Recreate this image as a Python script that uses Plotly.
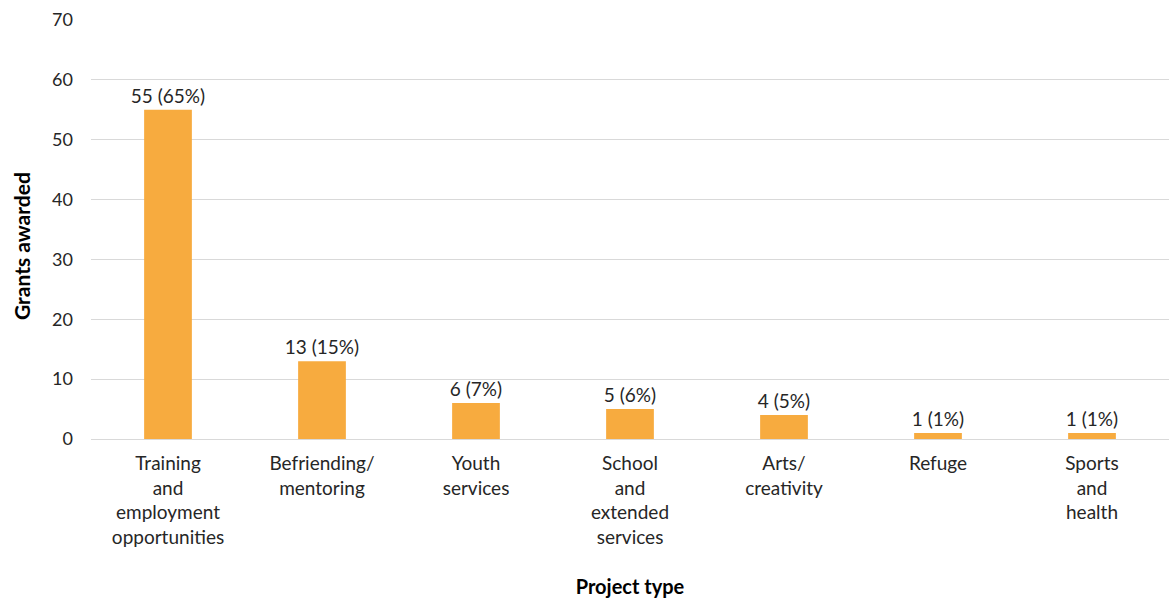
import plotly.graph_objects as go

categories = ["Training<br>and<br>employment<br>opportunities", "Befriending/<br>mentoring",
              "Youth<br>services", "School<br>and<br>extended<br>services", "Arts/<br>creativity",
              "Refuge", "Sports<br>and<br>health"]
grants = [55, 13, 6, 5, 4, 1, 1]
percents = [65, 15, 7, 6, 5, 1, 1]
labels = [f"{g} ({p}%)" for g, p in zip(grants, percents)]

FONT = "Lato, 'DejaVu Sans', sans-serif"

fig = go.Figure(go.Bar(
    x=categories, y=grants, text=labels, textposition="outside",
    textfont=dict(size=19, color="#262626", family=FONT),
    constraintext="none",
    marker=dict(color="#F7AB3F", line=dict(width=0)),
    width=0.31, cliponaxis=False,
))

fig.update_layout(
    width=1169, height=599,
    margin=dict(l=91, r=0, t=20, b=160),
    plot_bgcolor="white", paper_bgcolor="white",
    showlegend=False,
    font=dict(family=FONT, size=19, color="#262626"),
    annotations=[dict(
        text="<b>Grants awarded</b>", textangle=-90, showarrow=False,
        xref="paper", yref="paper", x=-70 / 1078, y=0.4606,
        xanchor="center", yanchor="middle",
        font=dict(size=21, color="#000000", family=FONT),
    )],
)
fig.update_yaxes(
    range=[0, 70], dtick=10, showgrid=True, gridcolor="#d9d9d9", gridwidth=1,
    zeroline=True, zerolinecolor="#d9d9d9", zerolinewidth=1,
    tickfont=dict(size=18, color="#262626"), ticklabelstandoff=17,
    automargin=False,
)
fig.update_xaxes(
    showline=False, tickfont=dict(size=19, color="#262626"), ticklabelstandoff=11,
    title=dict(text="<b>Project type</b>", font=dict(size=20, color="#000000"), standoff=32),
    automargin=False,
)

fig.write_html("out.html")
